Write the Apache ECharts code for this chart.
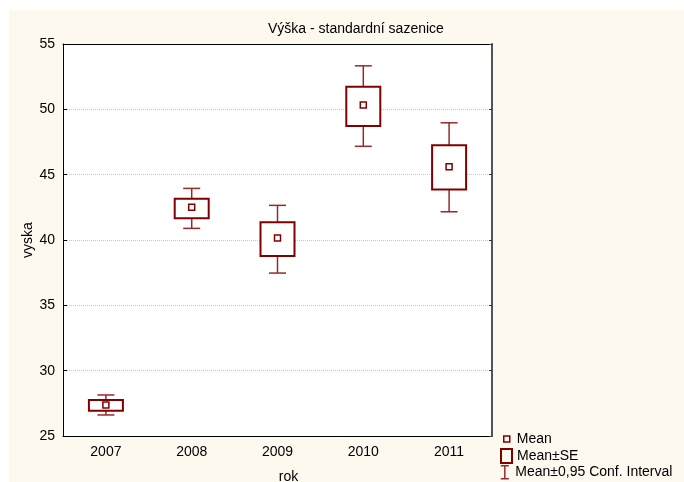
<!DOCTYPE html>
<html>
<head>
<meta charset="utf-8">
<script src="https://cdn.jsdelivr.net/npm/echarts@6/dist/echarts.min.js"></script>
<style>
html,body{margin:0;padding:0;background:#fff;}
#chart{width:684px;height:482px;}
</style>
</head>
<body>
<div id="chart"></div>
<script>
// values
var years=['2007','2008','2009','2010','2011'];
var means=[27.37,42.5,40.15,50.33,45.6];
var seLow=[26.94,41.66,38.77,48.72,43.87];
var seHigh=[27.75,43.16,41.35,51.73,47.26];
var ciLow=[26.61,40.89,37.47,47.17,42.16];
var ciHigh=[28.14,43.95,42.65,53.33,48.97];
var yTicks=[25,30,35,40,45,50,55];

var dark='#800000';
var whisk='#962a2a';
var font='"Liberation Sans", Arial, sans-serif';

var chart=echarts.init(document.getElementById('chart'));

var boxData=years.map(function(y,i){return [i,seLow[i],seHigh[i]];});
var ciData=years.map(function(y,i){return [i,ciLow[i],ciHigh[i],seLow[i],seHigh[i]];});
var meanData=years.map(function(y,i){return [i,means[i]];});

function renderBox(params,api){
    var hi=api.coord([api.value(0),api.value(2)]);
    var lo=api.coord([api.value(0),api.value(1)]);
    return {
        type:'rect',
        shape:{x:hi[0]-17,y:hi[1],width:34,height:lo[1]-hi[1]},
        style:{fill:'#fff',stroke:dark,lineWidth:2}
    };
}

function renderCI(params,api){
    var x=api.value(0);
    var top=api.coord([x,api.value(2)]);
    var bot=api.coord([x,api.value(1)]);
    var sLo=api.coord([x,api.value(3)]);
    var sHi=api.coord([x,api.value(4)]);
    var st={stroke:whisk,lineWidth:1.5};
    var c=top[0];
    return {
        type:'group',
        children:[
            {type:'line',shape:{x1:c-8.5,y1:top[1],x2:c+8.5,y2:top[1]},style:st},
            {type:'line',shape:{x1:c,y1:top[1],x2:c,y2:sHi[1]},style:st},
            {type:'line',shape:{x1:c,y1:sLo[1],x2:c,y2:bot[1]},style:st},
            {type:'line',shape:{x1:c-8.5,y1:bot[1],x2:c+8.5,y2:bot[1]},style:st}
        ]
    };
}

var legendText={color:'#000',fontSize:14,fontFamily:font};

var option={
    backgroundColor:'#fff',
    animation:false,
    graphic:[{
        type:'rect',
        z:-10,
        shape:{x:9,y:10,width:675,height:472},
        style:{fill:'#fef9ef'}
    }],
    title:{
        text:'Výška - standardní sazenice',
        left:268,
        top:22,
        padding:0,
        textStyle:{fontSize:14,fontWeight:'normal',color:'#000',fontFamily:font}
    },
    legend:[
        {
            data:[{name:'Mean',icon:'rect',itemStyle:{color:'rgba(0,0,0,0)',borderColor:dark,borderWidth:1.5}}],
            left:503,top:432,padding:0,itemWidth:6,itemHeight:6,selectedMode:false,
            textStyle:Object.assign({padding:[0,0,0,2]},legendText)
        },
        {
            data:[{name:'Mean±SE',icon:'rect',itemStyle:{color:'rgba(0,0,0,0)',borderColor:dark,borderWidth:2}}],
            left:500,top:448,padding:0,itemWidth:11,itemHeight:14,selectedMode:false,
            textStyle:legendText
        },
        {
            data:[{name:'Mean±0,95 Conf. Interval',icon:'path://M0,0H10M5,0V16M0,16H10',itemStyle:{color:'rgba(0,0,0,0)',borderColor:whisk,borderWidth:1.5}}],
            left:500,top:465,padding:0,itemWidth:11,itemHeight:13,selectedMode:false,
            textStyle:legendText
        }
    ],
    grid:{
        left:63,right:192,top:44,bottom:46,
        outerBoundsMode:'none',
        show:true,backgroundColor:'#fff',borderWidth:0
    },
    xAxis:[
        {
            type:'category',
            data:years,
            name:'rok',
            nameLocation:'middle',
            nameGap:34,
            nameMoveOverlap:false,
            nameTextStyle:{color:'#000',fontSize:14,fontFamily:font,padding:[0,0,0,22]},
            axisLine:{lineStyle:{color:'#000',width:1}},
            axisTick:{inside:true,alignWithLabel:true,length:4,lineStyle:{color:'#000'}},
            axisLabel:{color:'#000',fontSize:14,fontFamily:font,margin:9},
            splitLine:{show:false}
        },
        {
            type:'category',
            data:years,
            position:'top',
            axisLine:{lineStyle:{color:'#000',width:1}},
            axisTick:{inside:true,alignWithLabel:true,length:4,lineStyle:{color:'#000'}},
            axisLabel:{show:false},
            splitLine:{show:false}
        }
    ],
    yAxis:[
        {
            type:'value',
            min:yTicks[0],
            max:yTicks[yTicks.length-1],
            interval:5,
            name:'vyska',
            nameLocation:'middle',
            nameGap:28,
            nameMoveOverlap:false,
            nameTextStyle:{color:'#000',fontSize:14,fontFamily:font},
            axisLine:{show:true,lineStyle:{color:'#000',width:1}},
            axisTick:{show:true,inside:true,length:4,lineStyle:{color:'#000'}},
            axisLabel:{color:'#000',fontSize:14,fontFamily:font,margin:8},
            splitLine:{show:true,lineStyle:{color:'#c4c4c4',type:'dotted',width:1}}
        },
        {
            type:'value',
            position:'right',
            min:yTicks[0],
            max:yTicks[yTicks.length-1],
            interval:5,
            axisLine:{show:true,lineStyle:{color:'#555',width:2}},
            axisTick:{show:true,inside:true,length:3,lineStyle:{color:'#333'}},
            axisLabel:{show:false},
            splitLine:{show:false}
        }
    ],
    series:[
        {
            name:'Mean±0,95 Conf. Interval',
            type:'custom',
            renderItem:renderCI,
            encode:{x:0,y:[1,2]},
            itemStyle:{color:whisk},
            data:ciData,
            z:2
        },
        {
            name:'Mean±SE',
            type:'custom',
            renderItem:renderBox,
            encode:{x:0,y:[1,2]},
            itemStyle:{color:dark},
            data:boxData,
            z:3
        },
        {
            name:'Mean',
            type:'scatter',
            symbol:'rect',
            symbolSize:6,
            itemStyle:{color:'#fff',borderColor:dark,borderWidth:1.5,opacity:1},
            data:meanData,
            z:4
        }
    ]
};

chart.setOption(option);
</script>
</body>
</html>
